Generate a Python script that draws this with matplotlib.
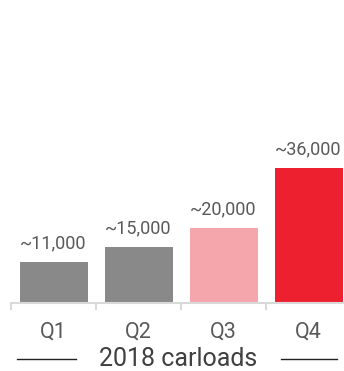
import matplotlib
matplotlib.use("Agg")
import matplotlib.pyplot as plt
from matplotlib.lines import Line2D

quarters = ["Q1", "Q2", "Q3", "Q4"]
carloads = [11000, 15000, 20000, 36000]
labels = ["~11,000", "~15,000", "~20,000", "~36,000"]
colors = ["#898989", "#898989", "#F5A5AC", "#EC202E"]

plt.rcParams["font.family"] = ["Roboto", "DejaVu Sans"]

W, H = 344, 371
fig = plt.figure(figsize=(W / 100, H / 100), dpi=100)
# axes in pixel terms: x from 11 to 351, baseline at y=303
ax = fig.add_axes([11 / W, (H - 303) / H, 340 / W, 303 / H])

x = range(len(quarters))
ax.bar(x, carloads, width=0.8, color=colors, zorder=2)
for i, v in enumerate(carloads):
    ax.annotate(labels[i], (i, v), xytext=(0, 10), textcoords="offset points",
                ha="center", va="baseline", fontsize=13, color="#595959")

ax.set_xlim(-0.5, 3.5)
ax.set_ylim(0, 80800)
for s in ["top", "right", "left"]:
    ax.spines[s].set_visible(False)
ax.spines["bottom"].set_color("#D9D9D9")
ax.spines["bottom"].set_linewidth(1.5)
ax.set_yticks([])
ax.set_xticks(list(x))
ax.set_xticklabels(quarters, fontsize=15.5, color="#595959")
ax.tick_params(axis="x", which="major", length=0, pad=13.5)
ax.set_xticks([-0.5, 0.5, 1.5, 2.5, 3.5], minor=True)
ax.tick_params(axis="x", which="minor", length=5, width=1.5, color="#D9D9D9")

# caption with rules either side
ty = (H - 358.5) / H
fig.text(178.5 / W, ty, "2018 carloads", ha="center", va="center",
         fontsize=18, color="#404040")
ly = (H - 359) / H
fig.add_artist(Line2D([17 / W, 76 / W], [ly, ly], color="#222222", lw=1))
fig.add_artist(Line2D([281 / W, 337 / W], [ly, ly], color="#222222", lw=1))

fig.savefig("out.png", dpi=100)
